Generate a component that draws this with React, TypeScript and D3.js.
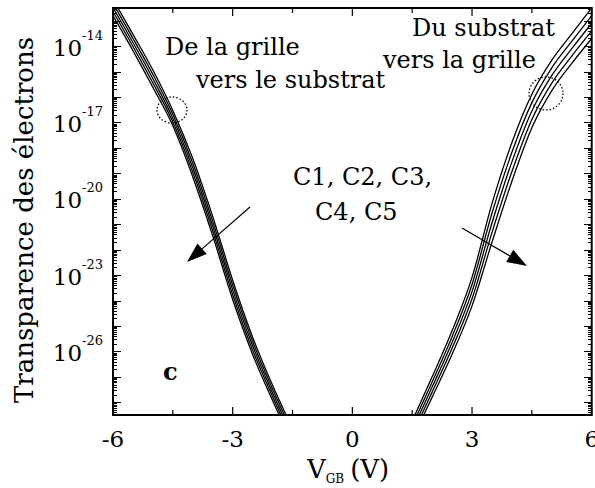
import React from 'react';
import * as d3 from 'd3';

const W = 595;
const H = 488;
const PLOT = { left: 113, right: 591.7, top: 8, bottom: 415 };

const X_DOMAIN = [-6, 6];
const Y_DOMAIN_EXP = [-28.5, -12.5];
const X_MAJOR = [-6, -3, 0, 3, 6];
const X_MINOR = [-4.5, -1.5, 1.5, 4.5];
const X_LABELS = ['-6', '-3', '0', '3', '6'];
const Y_LABEL_EXP = [-14, -17, -20, -23, -26];
const Y_DECADES = [-29, -28, -27, -26, -25, -24, -23, -22, -21, -20, -19, -18, -17, -16, -15, -14, -13];
const Y_MANTISSAS = [1, 2, 3, 4, 5, 6, 7, 8, 9];

// log10 of transparency, gate -> substrate (negative V_GB)
const LEFT_V = [-6, -5.5, -5, -4.5, -4, -3.5, -3, -2.5, -2, -1.5];
const LEFT_C1 = [-12.16, -13.535, -14.94, -16.53, -18.42, -20.7, -23.2, -25.44, -27.33, -29.03];
const LEFT_C2 = [-12.32, -13.695, -15.11, -16.68, -18.6, -20.89, -23.39, -25.61, -27.48, -29.18];
const LEFT_C3 = [-12.48, -13.855, -15.28, -16.83, -18.78, -21.08, -23.58, -25.78, -27.63, -29.33];
const LEFT_C4 = [-12.64, -14.015, -15.45, -16.98, -18.96, -21.27, -23.77, -25.95, -27.78, -29.48];
const LEFT_C5 = [-12.8, -14.175, -15.62, -17.13, -19.14, -21.46, -23.96, -26.12, -27.93, -29.63];

// log10 of transparency, substrate -> gate (positive V_GB)
const RIGHT_V = [1.5, 2, 2.5, 3, 3.5, 4, 4.5, 5, 5.5, 6];
const RIGHT_C1 = [-28.74, -27.0, -25.19, -23.09, -20.19, -17.79, -15.89, -14.55, -13.52, -12.5];
const RIGHT_C2 = [-28.92, -27.2, -25.42, -23.37, -20.57, -18.17, -16.22, -14.85, -13.81, -12.8];
const RIGHT_C3 = [-29.1, -27.4, -25.65, -23.65, -20.95, -18.55, -16.55, -15.15, -14.1, -13.1];
const RIGHT_C4 = [-29.28, -27.6, -25.88, -23.93, -21.33, -18.93, -16.88, -15.45, -14.39, -13.4];
const RIGHT_C5 = [-29.46, -27.8, -26.11, -24.21, -21.71, -19.31, -17.21, -15.75, -14.68, -13.7];

const LEFT_SERIES = [LEFT_C1, LEFT_C2, LEFT_C3, LEFT_C4, LEFT_C5];
const RIGHT_SERIES = [RIGHT_C1, RIGHT_C2, RIGHT_C3, RIGHT_C4, RIGHT_C5];

const FONT = '"DejaVu Serif", serif';

function Arrow({ x1, y1, x2, y2 }: { x1: number; y1: number; x2: number; y2: number }) {
  const ang = Math.atan2(y2 - y1, x2 - x1);
  const len = 20;
  const hw = 7;
  const bx = x2 - len * Math.cos(ang);
  const by = y2 - len * Math.sin(ang);
  const px = -Math.sin(ang) * hw;
  const py = Math.cos(ang) * hw;
  const pts = `${x2},${y2} ${bx + px},${by + py} ${bx - px},${by - py}`;
  return (
    <g>
      <line x1={x1} y1={y1} x2={bx} y2={by} stroke="#000" strokeWidth={1.2} />
      <polygon points={pts} fill="#000" />
    </g>
  );
}

export default function App() {
  const x = d3.scaleLinear().domain(X_DOMAIN).range([PLOT.left, PLOT.right]);
  const y = d3
    .scaleLog()
    .domain(Y_DOMAIN_EXP.map((e) => Math.pow(10, e)))
    .range([PLOT.bottom, PLOT.top]);

  const line = d3
    .line<[number, number]>()
    .x((d) => x(d[0]))
    .y((d) => y(Math.pow(10, d[1])))
    .curve(d3.curveMonotoneX);

  const [lo, hi] = y.domain();
  const yTicks: { v: number; major: boolean }[] = [];
  Y_DECADES.forEach((e) => {
    Y_MANTISSAS.forEach((k) => {
      const v = k * Math.pow(10, e);
      if (v >= lo * 0.999 && v <= hi * 1.001) yTicks.push({ v, major: k === 1 });
    });
  });

  const paths: string[] = [];
  LEFT_SERIES.forEach((s) => paths.push(line(LEFT_V.map((v, i) => [v, s[i]] as [number, number])) || ''));
  RIGHT_SERIES.forEach((s) => paths.push(line(RIGHT_V.map((v, i) => [v, s[i]] as [number, number])) || ''));

  return (
    <svg
      width={W}
      height={H}
      viewBox={`0 0 ${W} ${H}`}
      style={{ position: 'absolute', left: 0, top: 0, background: '#fff' }}
      fontFamily={FONT}
    >
      <rect x={0} y={0} width={W} height={H} fill="#fff" />
      <defs>
        <clipPath id="plotClip">
          <rect x={PLOT.left} y={PLOT.top} width={PLOT.right - PLOT.left} height={PLOT.bottom - PLOT.top} />
        </clipPath>
      </defs>

      {/* curves */}
      <g clipPath="url(#plotClip)">
        {paths.map((d, i) => (
          <path key={i} d={d} fill="none" stroke="#000" strokeWidth={1.3} />
        ))}
      </g>

      {/* y ticks left & right */}
      <g shapeRendering="crispEdges">
        {yTicks.map((t, i) => {
          const yy = Math.round(y(t.v));
          const len = t.major ? 8 : 4;
          return (
            <g key={'yt' + i} stroke="#000" strokeWidth={1}>
              <line x1={PLOT.left} x2={PLOT.left + len} y1={yy} y2={yy} />
              <line x1={PLOT.right} x2={PLOT.right - len} y1={yy} y2={yy} />
            </g>
          );
        })}
      </g>

      {/* x ticks bottom & top */}
      {X_MAJOR.map((v, i) => (
        <g key={'xM' + i} stroke="#000" strokeWidth={1.2}>
          <line x1={x(v)} x2={x(v)} y1={PLOT.bottom} y2={PLOT.bottom - 8} />
          <line x1={x(v)} x2={x(v)} y1={PLOT.top} y2={PLOT.top + 8} />
        </g>
      ))}
      {X_MINOR.map((v, i) => (
        <g key={'xm' + i} stroke="#000" strokeWidth={1.2}>
          <line x1={x(v)} x2={x(v)} y1={PLOT.bottom} y2={PLOT.bottom - 5} />
          <line x1={x(v)} x2={x(v)} y1={PLOT.top} y2={PLOT.top + 5} />
        </g>
      ))}

      {/* frame */}
      <rect
        x={PLOT.left}
        y={PLOT.top}
        width={PLOT.right - PLOT.left}
        height={PLOT.bottom - PLOT.top}
        fill="none"
        stroke="#000"
        strokeWidth={2}
      />

      {/* y tick labels */}
      {Y_LABEL_EXP.map((e, i) => (
        <text key={'yl' + i} x={103} y={y(Math.pow(10, e)) + 9.5} textAnchor="end" fontSize={23} fill="#000">
          10
          <tspan dy={-16} fontSize={13}>
            {String(e)}
          </tspan>
        </text>
      ))}

      {/* x tick labels */}
      {X_MAJOR.map((v, i) => (
        <text key={'xl' + i} x={x(v)} y={447} textAnchor="middle" fontSize={23} fill="#000">
          {X_LABELS[i]}
        </text>
      ))}

      {/* axis titles */}
      <text transform="translate(33,220) rotate(-90)" textAnchor="middle" fontSize={26} fill="#000">
        Transparence des électrons
      </text>
      <text x={307} y={478} fontSize={26} fill="#000">
        V
        <tspan dy={5} fontSize={12}>
          GB
        </tspan>
        <tspan dy={-5} dx={6} fontSize={26}>
          (V)
        </tspan>
      </text>

      {/* annotations */}
      <text x={412} y={36} fontSize={24} fill="#000">Du substrat</text>
      <text x={383} y={68} fontSize={24} fill="#000">vers la grille</text>
      <text x={165} y={55} fontSize={24} fill="#000">De la grille</text>
      <text x={196} y={88} fontSize={24} fill="#000">vers le substrat</text>
      <text x={293} y={185} fontSize={24} fill="#000">C1, C2, C3,</text>
      <text x={315} y={220} fontSize={24} fill="#000">C4, C5</text>
      <text x={163} y={380} fontSize={24} fontWeight="bold" fill="#000">c</text>

      <ellipse cx={172} cy={110} rx={15} ry={13} fill="none" stroke="#000" strokeWidth={1.3} strokeDasharray="1.5 2" />
      <ellipse cx={546} cy={93.5} rx={17} ry={16.5} fill="none" stroke="#000" strokeWidth={1.3} strokeDasharray="1.5 2" />

      <Arrow x1={250} y1={207} x2={187} y2={262} />
      <Arrow x1={462} y1={228} x2={527} y2={266} />
    </svg>
  );
}
